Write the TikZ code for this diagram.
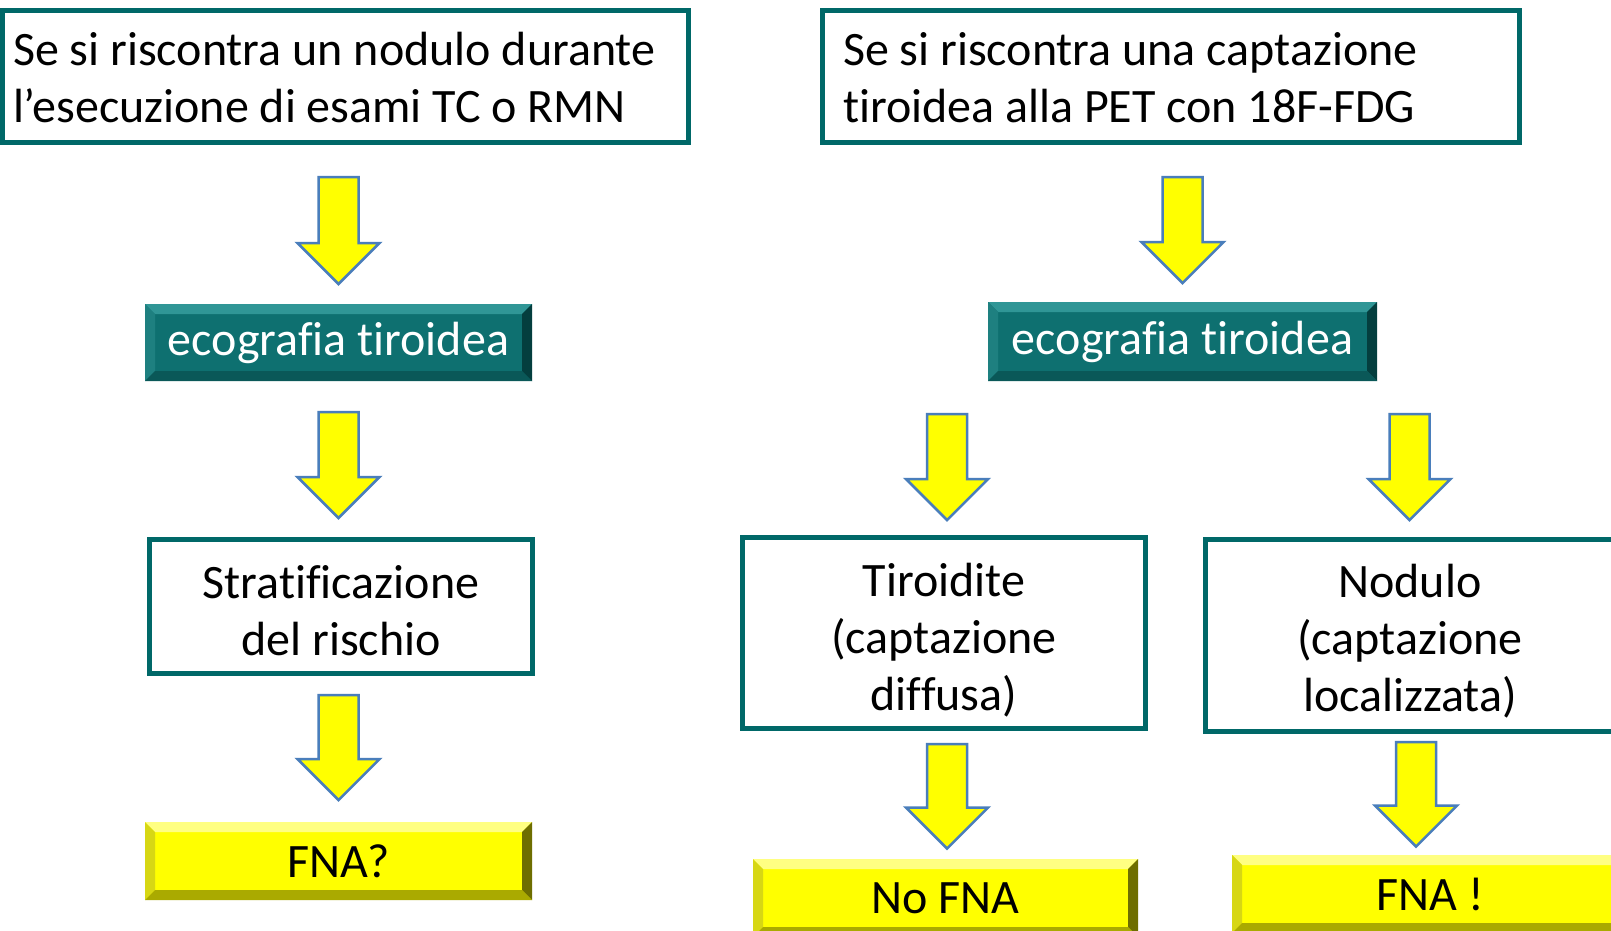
\documentclass[tikz,border=0pt]{standalone}
\usepackage{fontspec}
\setmainfont{Carlito}[Ligatures=NoCommon]
\usetikzlibrary{calc}
\definecolor{teal1}{RGB}{0,104,104}
\definecolor{tealfill}{RGB}{14,112,112}
\definecolor{teallight}{RGB}{48,150,150}
\definecolor{tealleft}{RGB}{30,128,128}
\definecolor{tealdark}{RGB}{4,62,62}
\definecolor{tealbot}{RGB}{10,88,88}
\definecolor{yel}{RGB}{255,255,0}
\definecolor{yellight}{RGB}{255,255,130}
\definecolor{yelleft}{RGB}{215,215,20}
\definecolor{yeldark}{RGB}{110,110,0}
\definecolor{yelbot}{RGB}{170,170,0}
\definecolor{arrowblue}{RGB}{74,126,187}
\newcommand{\bevel}[5]{%
  \fill[#2] (#1.north west) -- (#1.north east) -- ([shift={(-10pt,-10pt)}]#1.north east) -- ([shift={(10pt,-10pt)}]#1.north west) -- cycle;
  \fill[#3] (#1.north west) -- ([shift={(10pt,-10pt)}]#1.north west) -- ([shift={(10pt,10pt)}]#1.south west) -- (#1.south west) -- cycle;
  \fill[#4] (#1.north east) -- (#1.south east) -- ([shift={(-10pt,10pt)}]#1.south east) -- ([shift={(-10pt,-10pt)}]#1.north east) -- cycle;
  \fill[#5] (#1.south west) -- (#1.south east) -- ([shift={(-10pt,10pt)}]#1.south east) -- ([shift={(10pt,10pt)}]#1.south west) -- cycle;
}
\newcommand{\blockarrow}[2]{%
  \draw[barrow] let \p1=(#1), \p2=(#2) in
    (\x1-20pt,\y1) -- (\x1+20pt,\y1) -- (\x1+20pt,\y2+41pt) -- (\x1+41pt,\y2+41pt)
    -- (\x1,\y2) -- (\x1-41pt,\y2+41pt) -- (\x1-20pt,\y2+41pt) -- cycle;
}
\newcommand{\tstr}{\rule{0pt}{44pt}}
\newcommand{\tstrb}{\rule{0pt}{48pt}}
\newcommand{\bstr}{\rule[-4pt]{0pt}{4pt}}
\newcommand{\qstr}{\rule{0pt}{37pt}}
\begin{document}
\begin{tikzpicture}[x=1pt,y=-1pt,
  font=\fontsize{48}{57}\selectfont,
  wbox/.style={draw=teal1, line width=5pt, fill=white, inner sep=0pt, align=center},
  ebox/.style={fill=tealfill, text=white, minimum width=387pt, minimum height=77pt, inner sep=0pt, outer sep=0pt},
  ybox/.style={fill=yel, text=black, minimum width=387pt, minimum height=78pt, inner sep=0pt, outer sep=0pt},
  barrow/.style={fill=yel, draw=arrowblue, line width=2.5pt, line join=miter}]
\useasboundingbox (0,0) rectangle (1611,930);
\fill[white] (0,0) rectangle (1611,930);

% top boxes
\node[wbox, minimum width=686pt, minimum height=132pt, text width=664pt, align=flush left] (q1) at (345,76)
  {\qstr Se si riscontra un nodulo durante\\l’esecuzione di esami TC o RMN};
\node[wbox, minimum width=697pt, minimum height=132pt, text width=655pt, align=flush left] (q2) at (1170.5,76)
  {\qstr Se si riscontra una captazione\\tiroidea alla PET con 18F-FDG};

% ecografia boxes
\node[ebox] (e1) at (338.5,342.5) {ecografia tiroidea};
\bevel{e1}{teallight}{tealleft}{tealdark}{tealbot}
\node[ebox, minimum width=389pt, minimum height=79pt] (e2) at (1182.5,341.5) {ecografia tiroidea};
\bevel{e2}{teallight}{tealleft}{tealdark}{tealbot}

% white boxes
\node[wbox, minimum width=383pt, minimum height=134pt] (s1) at (341,606.5)
  {\tstr Stratificazione\\del rischio\bstr};
\node[wbox, minimum width=403pt, minimum height=191pt] (t1) at (944,633)
  {\tstrb Tiroidite\\(captazione\\diffusa)\bstr};
\node[wbox, minimum width=409pt, minimum height=192pt] (n1) at (1410,635.5)
  {\tstr Nodulo\\(captazione\\localizzata)\bstr};

% yellow boxes
\node[ybox] (f1) at (338.5,861) {FNA?};
\bevel{f1}{yellight}{yelleft}{yeldark}{yelbot}
\node[ybox, minimum width=385pt] (f2) at (945.5,898) {No FNA};
\bevel{f2}{yellight}{yelleft}{yeldark}{yelbot}
\node[ybox, minimum width=396pt] (f3) at (1430,894) {FNA !};
\bevel{f3}{yellight}{yelleft}{yeldark}{yelbot}

% arrows (connectors)
\coordinate (a1s) at (338.5,177); \coordinate (a1e) at (338.5,284);
\coordinate (a2s) at (338.5,412); \coordinate (a2e) at (338.5,518);
\coordinate (a3s) at (338.5,695); \coordinate (a3e) at (338.5,800);
\coordinate (a4s) at (1182.5,177); \coordinate (a4e) at (1182.5,283);
\coordinate (a5s) at (947,414); \coordinate (a5e) at (947,520);
\coordinate (a6s) at (1409.5,414); \coordinate (a6e) at (1409.5,520);
\coordinate (a7s) at (947,744); \coordinate (a7e) at (947,848.5);
\coordinate (a8s) at (1416,742); \coordinate (a8e) at (1416,846.5);
\blockarrow{a1s}{a1e}
\blockarrow{a2s}{a2e}
\blockarrow{a3s}{a3e}
\blockarrow{a4s}{a4e}
\blockarrow{a5s}{a5e}
\blockarrow{a6s}{a6e}
\blockarrow{a7s}{a7e}
\blockarrow{a8s}{a8e}
\end{tikzpicture}
\end{document}
